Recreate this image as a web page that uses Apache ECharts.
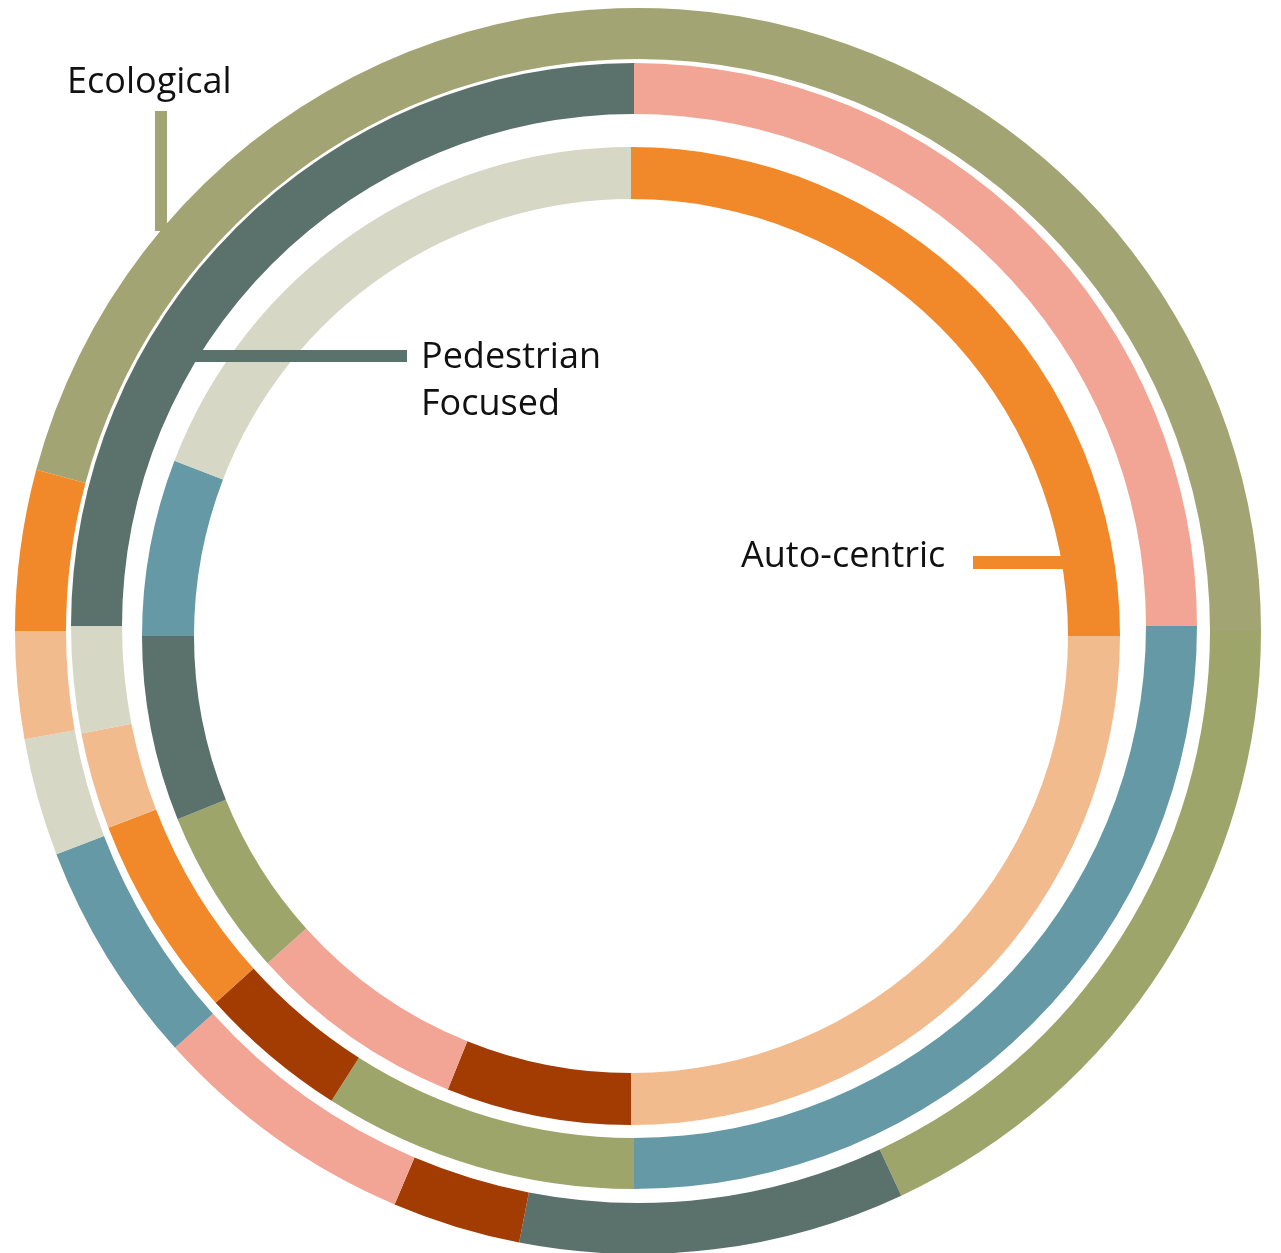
<!DOCTYPE html>
<html>
<head>
<meta charset="utf-8">
<script src="https://cdn.jsdelivr.net/npm/echarts@6/dist/echarts.min.js"></script>
<style>
  html, body { margin: 0; padding: 0; background: #fff; }
  #container { width: 1281px; height: 1253px; }
</style>
</head>
<body>
<div id="container"></div>
<script>
// segment sizes in degrees, clockwise
const outerStart = 165; // outer ring begins at ~285deg clockwise from 12 o'clock
const outerValues = [165, 65, 36, 12, 25, 21, 11, 10, 15];
const middleValues = [90, 90, 32.5, 15.5, 21, 10, 11, 90];
const innerValues = [90, 90, 22, 26, 20, 22, 21, 69];

const labelTexts = ['Ecological', 'Pedestrian\nFocused', 'Auto-centric'];

const C = {
  orange: '#F1892B',
  peach: '#F2BB8D',
  pink: '#F2A594',
  blue: '#6599A6',
  slate: '#5B716B',
  gray: '#D6D7C5',
  rust: '#A33C03',
  olive: '#9DA56A',
  oliveGray: '#A3A473'
};

const outerColors = [C.oliveGray, C.olive, C.slate, C.rust, C.pink, C.blue, C.gray, C.peach, C.orange];
const middleColors = [C.pink, C.blue, C.olive, C.rust, C.orange, C.peach, C.gray, C.slate];
const innerColors = [C.orange, C.peach, C.rust, C.pink, C.olive, C.slate, C.blue, C.gray];

function ring(values, colors, center, radius, startAngle) {
  return {
    type: 'pie',
    center: center,
    radius: radius,
    startAngle: startAngle,
    clockwise: true,
    silent: true,
    label: { show: false },
    labelLine: { show: false },
    itemStyle: { borderWidth: 0 },
    emphasis: { disabled: true },
    data: values.map((v, i) => ({ value: v, itemStyle: { color: colors[i] } }))
  };
}

const font = '"Open Sans", sans-serif';
const textStyle = (x, y, t) => ({
  type: 'text', left: x, top: y,
  style: { text: t, font: '36px ' + font, fill: '#111', lineHeight: 47 }
});

const chart = echarts.init(document.getElementById('container'));
chart.setOption({
  animation: false,
  series: [
    ring(outerValues, outerColors, [638, 631], [572, 623], outerStart),
    ring(middleValues, middleColors, [634, 626], [512, 563], 90),
    ring(innerValues, innerColors, [631, 636], [437, 489], 90)
  ],
  graphic: [
    { type: 'rect', shape: { x: 155, y: 111, width: 12, height: 120 }, style: { fill: C.oliveGray }, z: 10 },
    { type: 'rect', shape: { x: 194, y: 350, width: 213, height: 12 }, style: { fill: C.slate }, z: 10 },
    { type: 'rect', shape: { x: 973, y: 556, width: 92, height: 13 }, style: { fill: C.orange }, z: 10 },
    textStyle(67, 59, labelTexts[0]),
    textStyle(421, 334, labelTexts[1]),
    textStyle(741, 533, labelTexts[2])
  ]
});
</script>
</body>
</html>
